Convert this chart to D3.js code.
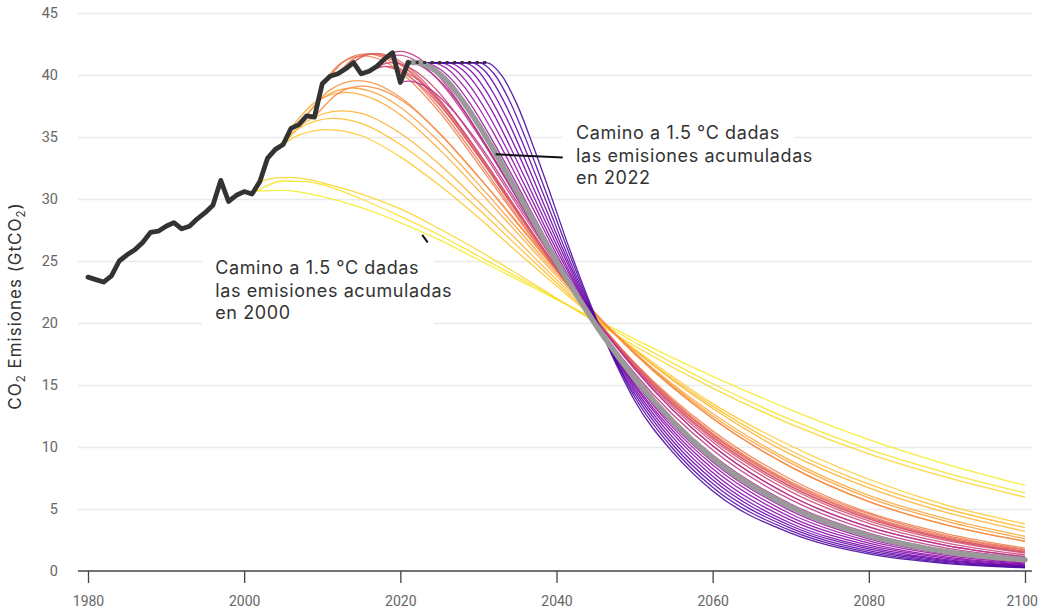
<!DOCTYPE html>
<html><head><meta charset="utf-8">
<script src="https://cdn.jsdelivr.net/npm/d3@7"></script>
<style>
body{margin:0;background:#fff;}
svg{display:block;font-family:Inter,"Open Sans",sans-serif;}
</style></head><body>
<svg id="chart" width="1040" height="614"></svg>
<script>
// ---------------- data ----------------
const histYears = d3.range(1980, 2022);
const histValues = [23.7,23.5,23.3,23.8,25.0,25.5,25.9,26.5,27.3,27.4,27.8,28.1,27.6,27.8,28.4,28.9,29.5,31.5,29.8,30.3,
  30.6,30.4,31.4,33.3,34.0,34.4,35.7,36.0,36.7,36.6,39.3,39.9,40.1,40.5,41.0,40.1,40.3,40.7,41.3,41.8,39.4,41.0];
const plateauYears = [2021, 2031];
const plateauValue = 41.0;
const highlightStart = 2022;
const pathwayStartYears = [2000,2001,2002,2003,2004,2005,2006,2007,2008,2009,2010,2011,2012,2013,2014,2015,
  2016,2017,2018,2019,2020,2021,2022,2023,2024,2025,2026,2027,2028,2029,2030,2031];
const pathwayPoints = [
 [[2000,30.6],[2005,30.7],[2010,30.2],[2015,29.3],[2020,28.1],[2025,26.7],[2030,25.1],[2035,23.5],[2040,21.9],[2045,20.3],[2050,18.7],[2060,15.7],[2070,13.0],[2080,10.6],[2090,8.6],[2100,6.9]],
 [[2001,30.4],[2003,31.1],[2005,31.45],[2008,31.4],[2010,31.15],[2015,30.0],[2020,28.6],[2025,27.1],[2030,25.4],[2035,23.7],[2040,21.95],[2045,20.2],[2050,18.45],[2060,15.1],[2070,12.2],[2080,9.8],[2090,7.9],[2100,6.3]],
 [[2002,31.4],[2004,31.7],[2006,31.75],[2008,31.6],[2010,31.3],[2015,30.4],[2020,29.2],[2025,27.6],[2030,25.85],[2035,23.95],[2040,22.0],[2045,20.05],[2050,18.15],[2060,14.75],[2070,11.85],[2080,9.45],[2090,7.55],[2100,5.95]],
 [[2003,33.3],[2005,34.4],[2007,35.15],[2010.6,35.6],[2015,35.1],[2020,33.4],[2025,31.1],[2030,28.5],[2035,25.7],[2040,23.0],[2045,20.3],[2050,17.9],[2060,13.5],[2070,10.1],[2080,7.4],[2090,5.3],[2100,3.8]],
 [[2004,34.0],[2007,35.7],[2011.4,36.5],[2015,36.1],[2020,34.4],[2025,32.0],[2030,29.2],[2035,26.2],[2040,23.25],[2045,20.4],[2050,17.8],[2060,13.3],[2070,9.7],[2080,7.0],[2090,5.0],[2100,3.5]],
 [[2005,34.4],[2008,36.25],[2012.4,37.1],[2015,36.9],[2020,35.3],[2025,32.8],[2030,29.8],[2035,26.65],[2040,23.5],[2045,20.55],[2050,17.8],[2060,13.1],[2070,9.4],[2080,6.7],[2090,4.7],[2100,3.2]],
 [[2006,35.7],[2009,37.75],[2013,38.6],[2017,37.95],[2020,36.8],[2025,34.0],[2030,30.7],[2035,27.25],[2040,23.8],[2045,20.6],[2050,17.6],[2060,12.7],[2070,8.9],[2080,6.1],[2090,4.2],[2100,2.8]],
 [[2007,36.0],[2010,38.1],[2013.8,38.95],[2017,38.5],[2020,37.4],[2025,34.6],[2030,31.2],[2035,27.6],[2040,24.0],[2045,20.7],[2050,17.6],[2060,12.5],[2070,8.7],[2080,5.9],[2090,4.0],[2100,2.6]],
 [[2008,36.7],[2011,38.8],[2014.5,39.55],[2017,39.25],[2020,38.2],[2025,35.3],[2030,31.8],[2035,28.0],[2040,24.2],[2045,20.7],[2050,17.5],[2060,12.3],[2070,8.4],[2080,5.6],[2090,3.7],[2100,2.4]],
 [[2009,36.6],[2012,38.5],[2015,39.1],[2018,38.7],[2021,37.6],[2025,35.3],[2030,31.8],[2035,28.1],[2040,24.3],[2045,20.8],[2050,17.6],[2060,12.3],[2070,8.4],[2080,5.6],[2090,3.7],[2100,2.4]],
 [[2010,39.3],[2012.5,41.0],[2015.2,41.55],[2018,41.1],[2021,39.7],[2025,37.0],[2030,32.8],[2035,28.45],[2040,24.2],[2045,20.3],[2050,16.8],[2060,11.3],[2070,7.4],[2080,4.7],[2090,3.0],[2100,1.85]],
 [[2011,39.9],[2013,41.2],[2015.6,41.7],[2018,41.35],[2021,40.0],[2025,37.3],[2030,33.1],[2035,28.6],[2040,24.25],[2045,20.3],[2050,16.7],[2060,11.1],[2070,7.2],[2080,4.6],[2090,2.85],[2100,1.75]],
 [[2012,40.1],[2014,41.3],[2016.3,41.7],[2019,41.2],[2022,39.8],[2025,37.7],[2030,33.45],[2035,28.9],[2040,24.4],[2045,20.35],[2050,16.75],[2060,11.0],[2070,7.1],[2080,4.45],[2090,2.75],[2100,1.7]],
 [[2013,40.5],[2015,41.45],[2016.7,41.7],[2019,41.3],[2022,39.9],[2025,37.9],[2030,33.6],[2035,29.0],[2040,24.5],[2045,20.35],[2050,16.7],[2060,10.95],[2070,7.0],[2080,4.35],[2090,2.65],[2100,1.6]],
 [[2014,41.0],[2015.5,41.6],[2016.9,41.75],[2019,41.45],[2022,40.1],[2025,38.05],[2030,33.75],[2035,29.05],[2040,24.5],[2045,20.3],[2050,16.6],[2060,10.8],[2070,6.85],[2080,4.25],[2090,2.6],[2100,1.55]],
 [[2015,40.1],[2017.6,40.7],[2020,40.3],[2022.5,39.2],[2025,37.6],[2030,33.45],[2035,28.85],[2040,24.35],[2045,20.2],[2050,16.5],[2060,10.75],[2070,6.8],[2080,4.2],[2090,2.55],[2100,1.5]],
 [[2016,40.3],[2018.2,40.7],[2020.5,40.3],[2023,39.2],[2025,37.9],[2030,33.75],[2035,29.1],[2040,24.45],[2045,20.25],[2050,16.5],[2060,10.6],[2070,6.65],[2080,4.05],[2090,2.45],[2100,1.45]],
 [[2017,40.7],[2018.9,41.0],[2021,40.65],[2023,39.8],[2025,38.55],[2030,34.3],[2035,29.45],[2040,24.7],[2045,20.25],[2050,16.4],[2060,10.4],[2070,6.4],[2080,3.85],[2090,2.25],[2100,1.3]],
 [[2018,41.3],[2019.7,41.6],[2022,41.15],[2024,40.15],[2026,38.75],[2030,35.15],[2035,30.05],[2040,24.95],[2045,20.3],[2050,16.3],[2060,10.1],[2070,6.05],[2080,3.55],[2090,2.05],[2100,1.15]],
 [[2019,41.8],[2020,41.9],[2022,41.5],[2024,40.5],[2026,39.1],[2028,37.3],[2030,35.35],[2035,30.05],[2040,24.8],[2045,20.05],[2050,15.95],[2060,9.75],[2070,5.75],[2080,3.3],[2090,1.85],[2100,1.05]],
 [[2020,39.4],[2021,39.5],[2023,39.15],[2025,38.25],[2027,36.95],[2030,34.5],[2035,29.7],[2040,24.8],[2045,20.3],[2050,16.3],[2060,10.1],[2070,6.05],[2080,3.55],[2090,2.05],[2100,1.15]],
 [[2021,41.0],[2022,40.9],[2024,40.15],[2026,38.9],[2028,37.25],[2030,35.3],[2032,33.25],[2035,30.0],[2040,24.65],[2045,19.8],[2050,15.6],[2060,9.35],[2070,5.4],[2080,3.05],[2090,1.65],[2100,0.9]],
 [[2021,41.0],[2022,41.0],[2024,40.55],[2026,39.5],[2028,37.9],[2030,36.0],[2032,33.9],[2034,31.65],[2036,29.4],[2038,27.15],[2040,24.95],[2042,22.85],[2044,20.85],[2046,18.95],[2050,15.55],[2055,12.0],[2060,9.1],[2070,5.15],[2080,2.85],[2090,1.55],[2100,0.9]],
 [[2021,41.0],[2023,41.0],[2025,40.5],[2027,39.35],[2029,37.65],[2031,35.6],[2033,33.4],[2035,31.1],[2037,28.7],[2039,26.4],[2041,24.1],[2043,22.0],[2046,18.95],[2050,15.4],[2055,11.7],[2060,8.8],[2070,4.85],[2080,2.6],[2090,1.36],[2100,0.7]],
 [[2021,41.0],[2024,41.0],[2026,40.5],[2028,39.2],[2030,37.4],[2032,35.25],[2034,32.9],[2036,30.45],[2038,28.0],[2040,25.55],[2042,23.25],[2044,21.05],[2046,18.95],[2050,15.3],[2055,11.5],[2060,8.55],[2070,4.6],[2080,2.42],[2090,1.24],[2100,0.63]],
 [[2021,41.0],[2025,41.0],[2027,40.45],[2029,39.05],[2031,37.1],[2033,34.8],[2035,32.3],[2037,29.75],[2039,27.15],[2041,24.7],[2043,22.3],[2045,20.05],[2046,18.95],[2050,15.1],[2055,11.25],[2060,8.25],[2070,4.35],[2080,2.25],[2090,1.12],[2100,0.56]],
 [[2021,41.0],[2026,41.0],[2028,40.4],[2030,38.9],[2032,36.8],[2034,34.3],[2036,31.65],[2038,28.95],[2040,26.3],[2042,23.7],[2044,21.25],[2046,18.95],[2050,14.95],[2055,11.0],[2060,7.95],[2070,4.1],[2080,2.08],[2090,1.02],[2100,0.5]],
 [[2021,41.0],[2027,41.0],[2029,40.35],[2031,38.7],[2033,36.4],[2035,33.8],[2037,30.95],[2039,28.1],[2041,25.35],[2043,22.65],[2045,20.15],[2046,18.95],[2050,14.75],[2055,10.7],[2060,7.65],[2070,3.85],[2080,1.92],[2090,0.92],[2100,0.44]],
 [[2021,41.0],[2028,41.0],[2030,40.3],[2032,38.45],[2034,36.0],[2036,33.15],[2038,30.15],[2040,27.15],[2042,24.25],[2044,21.5],[2046,18.95],[2050,14.55],[2055,10.4],[2060,7.35],[2070,3.65],[2080,1.78],[2090,0.84],[2100,0.39]],
 [[2021,41.0],[2029,41.0],[2031,40.2],[2033,38.2],[2035,35.5],[2037,32.45],[2039,29.3],[2041,26.1],[2043,23.1],[2045,20.3],[2046,18.95],[2050,14.3],[2055,10.1],[2060,7.05],[2070,3.45],[2080,1.64],[2090,0.76],[2100,0.34]],
 [[2021,41.0],[2030,41.0],[2032,40.1],[2034,37.9],[2036,34.95],[2038,31.65],[2040,28.3],[2042,25.0],[2044,21.85],[2046,18.95],[2048,16.4],[2050,14.05],[2055,9.8],[2060,6.75],[2070,3.25],[2080,1.5],[2090,0.68],[2100,0.3]],
 [[2021,41.0],[2031,41.0],[2033,39.95],[2035,37.55],[2037,34.3],[2039,30.8],[2041,27.15],[2043,23.7],[2045,20.5],[2046,18.95],[2048,16.2],[2050,13.75],[2055,9.5],[2060,6.45],[2070,3.05],[2080,1.38],[2090,0.6],[2100,0.26]]
];
const xTicks = [1980, 2000, 2020, 2040, 2060, 2080, 2100];
const yTicks = [0, 5, 10, 15, 20, 25, 30, 35, 40, 45];
const notes = [
  {lines: ["Camino a 1.5 °C dadas", "las emisiones acumuladas", "en 2022"], at: [2042.5, 34.8], pointer: [[2032.2, 33.6], [2040.8, 33.35]]},
  {lines: ["Camino a 1.5 °C dadas", "las emisiones acumuladas", "en 2000"], at: [1996.3, 23.95], pointer: [[2022.8, 27.1], [2023.5, 26.5]]}
];

// ---------------- chart ----------------
const FONT = 'Inter, "Open Sans", sans-serif';
const TICKFONT = 'Roboto, "Noto Sans", sans-serif';
const W = 1040;
const svg = d3.select("#chart");
svg.append("rect").attr("width", W).attr("height", 614).attr("fill", "#fff");

const x = d3.scaleLinear().domain([1980, 2100]).range([88, 1025]);
const y = d3.scaleLinear().domain([0, 45]).range([571, 13]);
const gridLeft = 78, gridRight = 1032;

// gridlines
const grid = svg.append("g").attr("transform", `translate(${gridLeft},0)`)
  .call(d3.axisLeft(y).tickValues(yTicks.filter(v => v > 0)).tickSize(-(gridRight - gridLeft)).tickFormat(""));
grid.select(".domain").remove();
grid.selectAll("line").attr("stroke", "#e9e9e9").attr("stroke-width", 1.3);

// y tick labels
const yAxis = svg.append("g").attr("transform", `translate(${x(1980)},0)`)
  .call(d3.axisLeft(y).tickValues(yTicks).tickSize(0).tickPadding(30).tickFormat(d3.format("d")));
yAxis.select(".domain").remove();
yAxis.attr("font-family", TICKFONT).attr("font-size", 14.5);
yAxis.selectAll("text").attr("fill", "#666");

// annotation backgrounds
notes.forEach(n => {
  const tx = x(n.at[0]), ty = y(n.at[1]);
  svg.append("rect").attr("x", tx - 13).attr("y", ty - 25).attr("width", 232).attr("height", 80).attr("fill", "#fff");
});

// pathways
const line = d3.line().x(d => x(d[0])).y(d => y(d[1])).curve(d3.curveMonotoneX);
const colorT = d3.scaleLinear().domain([2000, 2031]).range([0.97, 0.11]);
const gPaths = svg.append("g").attr("fill", "none");
pathwayStartYears.forEach((s, i) => {
  if (s === highlightStart) return;
  gPaths.append("path").attr("d", line(pathwayPoints[i]))
    .attr("stroke", d3.interpolatePlasma(colorT(s)))
    .attr("stroke-width", 1.3).attr("stroke-opacity", 0.88);
});
const hi = pathwayStartYears.indexOf(highlightStart);
gPaths.append("path").attr("d", line(pathwayPoints[hi]))
  .attr("stroke", "#9a9a9a").attr("stroke-width", 5.5).attr("stroke-linecap", "round");

// historical
const hist = histYears.map((yr, i) => [yr, histValues[i]]);
svg.append("path").attr("d", d3.line().x(d => x(d[0])).y(d => y(d[1]))(hist))
  .attr("fill", "none").attr("stroke", "#333").attr("stroke-width", 4.8)
  .attr("stroke-linejoin", "round").attr("stroke-linecap", "round");

// plateau (dotted)
svg.append("path").attr("d", d3.line().x(d => x(d)).y(() => y(plateauValue))(plateauYears))
  .attr("fill", "none").attr("stroke", "#333").attr("stroke-width", 3).attr("stroke-dasharray", "3,4.5");

// x axis
svg.append("line").attr("x1", gridLeft).attr("x2", gridRight).attr("y1", y(0)).attr("y2", y(0))
  .attr("stroke", "#444").attr("stroke-width", 1.5);
const xAxis = svg.append("g").attr("transform", `translate(0,${y(0)})`)
  .call(d3.axisBottom(x).tickValues(xTicks).tickSize(12).tickPadding(13).tickFormat(d3.format("d")));
xAxis.select(".domain").remove();
xAxis.attr("font-family", TICKFONT).attr("font-size", 14);
xAxis.selectAll("line").attr("stroke", "#444").attr("stroke-width", 1.3);
xAxis.selectAll("text").attr("fill", "#666");
// keep the last label inside the page
xAxis.selectAll(".tick text").each(function () {
  const b = this.getBBox();
  const tr = this.parentNode.getAttribute("transform");
  const tx = +tr.match(/translate\(([-\d.]+)/)[1];
  const overflow = tx + b.x + b.width - (W - 2);
  if (overflow > 0) d3.select(this).attr("dx", -overflow);
});

// annotations
notes.forEach(n => {
  const tx = x(n.at[0]), ty = y(n.at[1]);
  svg.append("path").attr("d", d3.line().x(d => x(d[0])).y(d => y(d[1]))(n.pointer))
    .attr("stroke", "#111").attr("stroke-width", 2).attr("fill", "none");
  const t = svg.append("text").attr("x", tx).attr("y", ty)
    .attr("font-family", FONT).attr("font-size", 18).attr("fill", "#333").attr("letter-spacing", 0.6);
  n.lines.forEach((l, k) => t.append("tspan").attr("x", tx).attr("dy", k === 0 ? 0 : 22.5).text(l));
});

// y title
const yt = svg.append("text").attr("transform", "translate(21,306) rotate(-90)")
  .attr("text-anchor", "middle").attr("font-family", FONT).attr("font-size", 17)
  .attr("fill", "#333").attr("letter-spacing", 1);
yt.append("tspan").text("CO");
yt.append("tspan").attr("font-size", 11.5).attr("dy", 4).text("2");
yt.append("tspan").attr("dy", -4).text(" Emisiones (GtCO");
yt.append("tspan").attr("font-size", 11.5).attr("dy", 4).text("2");
yt.append("tspan").attr("dy", -4).text(")");
</script>
</body></html>
